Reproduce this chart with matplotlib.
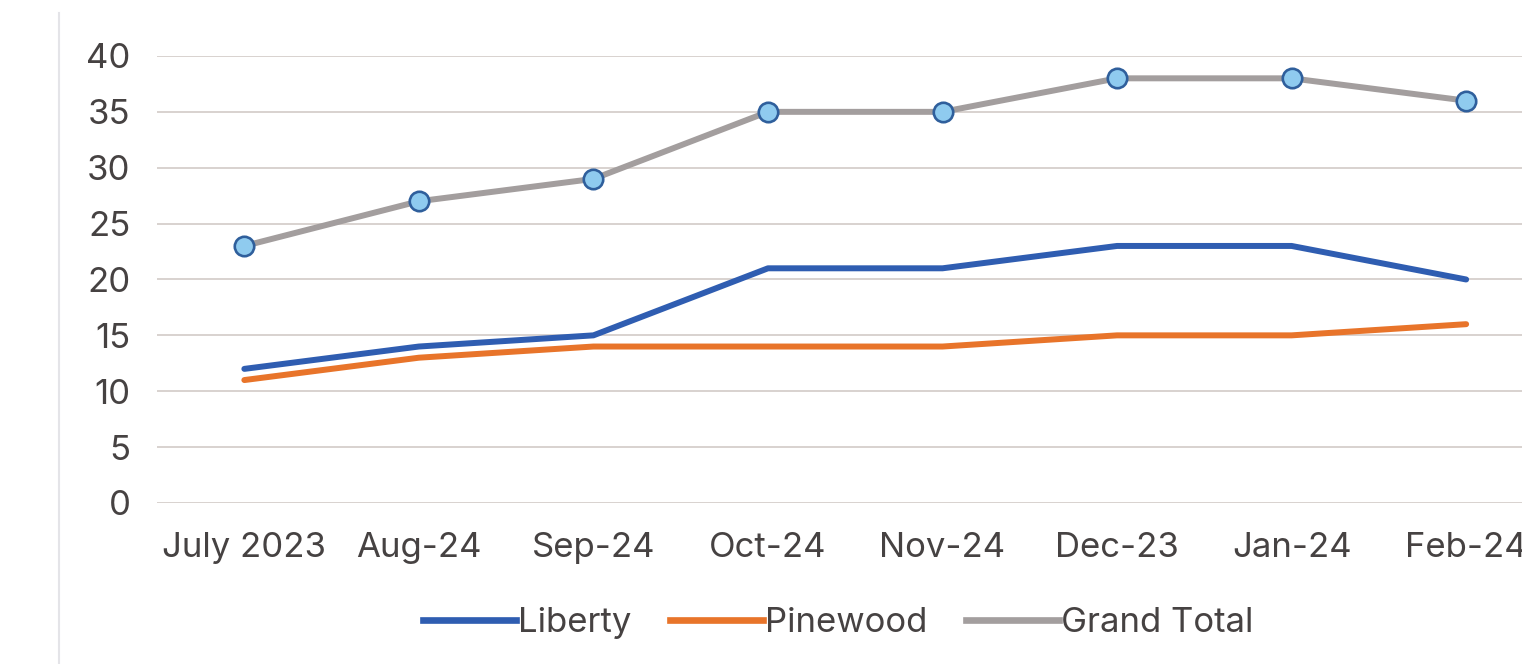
"""
Monthly counts for Liberty, Pinewood and the grand total, drawn as an
Excel-style line chart.
"""

import matplotlib.pyplot as plt
from matplotlib.lines import Line2D

plt.rcParams['font.family'] = ['Inter', 'DejaVu Sans']

# Data
months = ['July 2023', 'Aug-24', 'Sep-24', 'Oct-24', 'Nov-24', 'Dec-23', 'Jan-24', 'Feb-24']
liberty = [12, 14, 15, 21, 21, 23, 23, 20]
pinewood = [11, 13, 14, 14, 14, 15, 15, 16]
grand_total = [23, 27, 29, 35, 35, 38, 38, 36]
y_ticks = [0, 5, 10, 15, 20, 25, 30, 35, 40]

TEXT = '#464242'
BLUE = '#2f5db1'
ORANGE = '#e8742a'
GRAY = '#a39e9e'


def create_chart():
    fig = plt.figure(figsize=(15.22, 6.64), dpi=100)
    ax = fig.add_axes([0.1032, 0.2425, 0.8968, 0.6732])

    x = range(len(months))
    ax.plot(x, liberty, color=BLUE, linewidth=4.3, solid_capstyle='round', label='Liberty', zorder=3)
    ax.plot(x, pinewood, color=ORANGE, linewidth=4.3, solid_capstyle='round', label='Pinewood', zorder=3)
    ax.plot(x, grand_total, color=GRAY, linewidth=4.3, solid_capstyle='round', zorder=3)
    ax.plot(x, grand_total, linestyle='none', marker='o', markersize=14,
            markerfacecolor='#8fcbef', markeredgecolor='#2f5f9c', markeredgewidth=1.9, zorder=4)

    ax.set_xlim(-0.5, 7.32)
    ax.set_ylim(0, 40)
    ax.set_yticks(y_ticks)
    ax.set_xticks(list(x))
    ax.set_xticklabels(months)

    ax.tick_params(axis='both', length=0, labelsize=25, colors=TEXT)
    ax.tick_params(axis='y', pad=19)
    ax.tick_params(axis='x', pad=21)
    for label in ax.get_yticklabels():
        label.set_horizontalalignment('right')

    ax.grid(axis='y', color='#d6cfcc', linewidth=1.3)
    ax.set_axisbelow(True)
    for spine in ax.spines.values():
        spine.set_visible(False)

    # Legend below the plot
    handles = [
        Line2D([], [], color=BLUE, linewidth=4.8),
        Line2D([], [], color=ORANGE, linewidth=4.8),
        Line2D([], [], color=GRAY, linewidth=4.8),
    ]
    fig.legend(handles, ['Liberty', 'Pinewood', 'Grand Total'], loc='center',
               bbox_to_anchor=(0.5506, 0.061), ncol=3, frameon=False, fontsize=25,
               handlelength=2.7, handletextpad=0.05, columnspacing=1.1, labelcolor=TEXT)

    # Faint chart-area border on the left
    fig.add_artist(Line2D([0.0385, 0.0385], [0.0, 0.98], color='#e4e4e8', linewidth=1.5))

    fig.savefig('out.png', dpi=100)
    plt.close(fig)


if __name__ == '__main__':
    create_chart()
